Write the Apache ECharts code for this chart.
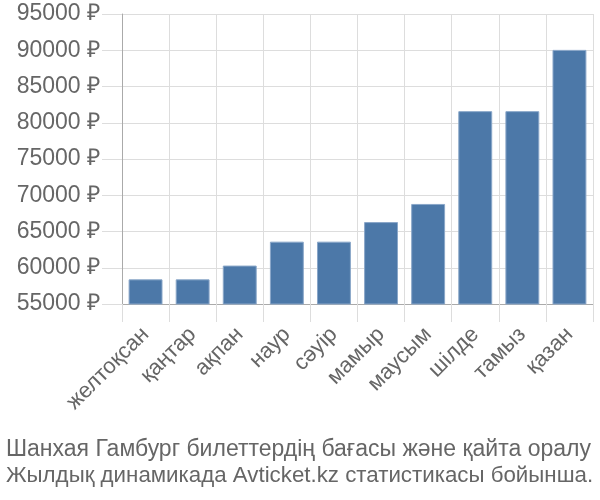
<!DOCTYPE html>
<html><head><meta charset="utf-8">
<script src="https://cdn.jsdelivr.net/npm/echarts@6/dist/echarts.min.js"></script>
<style>html,body{margin:0;padding:0;background:#fff}#c{width:600px;height:500px}</style>
</head><body><div id="c"></div>
<script>
const categories = ['желтоқсан','қаңтар','ақпан','наур','сәуір','мамыр','маусым','шілде','тамыз','қазан'];
const prices = [58400, 58400, 60300, 63600, 63600, 66300, 68800, 81600, 81600, 90050];
const titleLines = ['Шанхая Гамбург билеттердің бағасы және қайта оралу', 'Жылдық динамикада Avticket.kz статистикасы бойынша.'];
const chart = echarts.init(document.getElementById('c'));
const tStyle = {fontFamily: 'Liberation Sans', fontWeight: 'normal', color: '#666'};
chart.setOption({
  animation: false,
  title: [
    {text: titleLines[0], left: 1, top: 433, textStyle: Object.assign({fontSize: 23}, tStyle)},
    {text: titleLines[1], left: 1, top: 460, textStyle: Object.assign({fontSize: 22.3}, tStyle)}
  ],
  grid: {left: 122, right: 7, top: 14, bottom: 196, containLabel: false},
  xAxis: {
    type: 'category', data: categories,
    axisLine: {show: true, lineStyle: {color: '#aaa', width: 1}},
    axisTick: {show: true, length: 18, lineStyle: {color: '#ddd'}},
    splitLine: {show: true, lineStyle: {color: '#ddd'}},
    axisLabel: {rotate: 45, fontFamily: 'Liberation Sans', fontSize: 22, color: '#666', margin: 27, interval: 0}
  },
  yAxis: {
    type: 'value', min: 55000, max: 95000, interval: 5000,
    axisLine: {show: true, lineStyle: {color: '#aaa'}},
    axisTick: {show: true, length: 20, lineStyle: {color: '#ddd'}},
    splitLine: {lineStyle: {color: '#ddd'}},
    axisLabel: {formatter: v => v + ' ₽', fontFamily: 'Liberation Sans', fontSize: 23, color: '#666', margin: 22}
  },
  series: [{
    type: 'bar', data: prices, barCategoryGap: '28%',
    itemStyle: {color: '#4c78a8', borderColor: '#8aa7c9', borderWidth: 1}
  }]
});
</script></body></html>
